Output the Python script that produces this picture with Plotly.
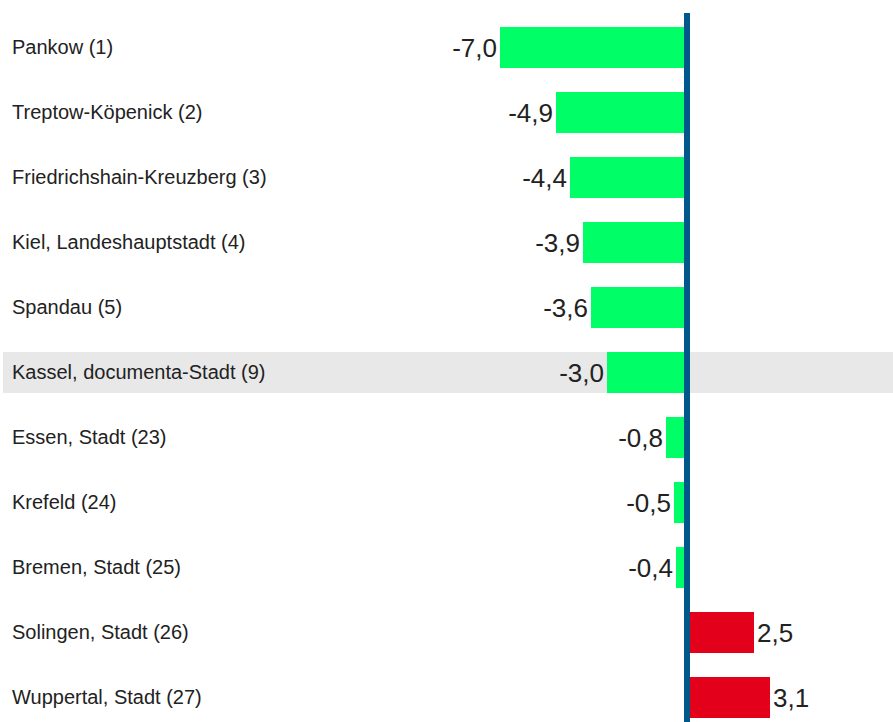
import plotly.graph_objects as go

categories = [
    "Pankow (1)",
    "Treptow-Köpenick (2)",
    "Friedrichshain-Kreuzberg (3)",
    "Kiel, Landeshauptstadt (4)",
    "Spandau (5)",
    "Kassel, documenta-Stadt (9)",
    "Essen, Stadt (23)",
    "Krefeld (24)",
    "Bremen, Stadt (25)",
    "Solingen, Stadt (26)",
    "Wuppertal, Stadt (27)",
]
values = [-7.0, -4.9, -4.4, -3.9, -3.6, -3.0, -0.8, -0.5, -0.4, 2.5, 3.1]
highlight = "Kassel, documenta-Stadt (9)"

NEG_COLOR = "#00ff66"
POS_COLOR = "#e2001a"
AXIS_COLOR = "#00578a"
FONT = "Liberation Sans, Arial, sans-serif"

ypos = list(range(len(categories)))
colors = [NEG_COLOR if v < 0 else POS_COLOR for v in values]
texts = [f"{v:.1f}".replace(".", ",") for v in values]

fig = go.Figure()
fig.add_trace(go.Bar(
    x=values, y=ypos, orientation="h",
    marker=dict(color=colors, line=dict(width=0)),
    width=0.62,
    text=texts, textposition="outside",
    textfont=dict(family=FONT, size=26, color="#222222"),
    cliponaxis=False,
    hoverinfo="skip",
))

W, H = 893, 722
shapes = []
hi = categories.index(highlight)
shapes.append(dict(type="rect", xref="paper", yref="y", x0=3 / W, x1=1,
                   y0=hi - 0.315, y1=hi + 0.315, fillcolor="#e8e8e8",
                   line=dict(width=0), layer="below"))
shapes.append(dict(type="line", xref="x", yref="paper", x0=0, x1=0, y0=0, y1=1,
                   line=dict(color=AXIS_COLOR, width=6), layer="above"))

annotations = []
for i, c in enumerate(categories):
    annotations.append(dict(x=10 / W, xref="paper", y=i, yref="y", text=c,
                            showarrow=False, xanchor="left", yanchor="middle",
                            font=dict(family=FONT, size=20, color="#222222")))

unit = 26.7
fig.update_layout(
    width=W, height=H,
    margin=dict(l=0, r=0, t=13, b=0, pad=0),
    paper_bgcolor="white", plot_bgcolor="white",
    showlegend=False,
    bargap=0,
    xaxis=dict(range=[-687 / unit, 206 / unit], showgrid=False, zeroline=False,
               showticklabels=False, showline=False, fixedrange=True),
    yaxis=dict(range=[10.378, -0.53], showgrid=False, zeroline=False,
               showticklabels=False, showline=False, fixedrange=True),
    shapes=shapes,
    annotations=annotations,
    uniformtext=dict(mode=False),
)

fig.write_html("out.html", config={"displayModeBar": False},
               post_script="document.body.style.margin='0';")
